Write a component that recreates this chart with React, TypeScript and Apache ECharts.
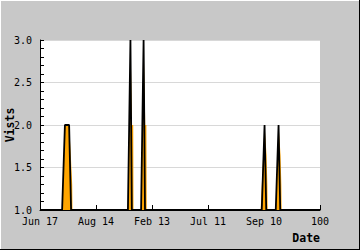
import React, { useEffect, useRef } from "react";
import * as echarts from "echarts";

const xTickLabels = ["Jun 17", "Aug 14", "Feb 13", "Jul 11", "Sep 10", "100"];
const visitPoints: [number, number][] = [
  [0, 1],
  [7.9, 1], [8.9, 2], [10.4, 2], [11.1, 1],
  [31.4, 1], [32.3, 3], [32.8, 1],
  [36.1, 1], [37.0, 3], [37.5, 1],
  [79.2, 1], [80.2, 2], [80.8, 1],
  [84.2, 1], [85.2, 2], [85.8, 1],
  [100, 1],
];
// orange fill spill to the right of each spike
const fillPoints: [number, number][] = [
  [0, 1],
  [7.9, 1], [8.9, 2], [10.4, 2], [11.0, 1.65], [11.5, 1.3], [11.6, 1],
  [31.4, 1], [32.3, 3], [32.9, 2.0], [33.3, 2.0], [33.4, 1],
  [36.1, 1], [37.0, 3], [37.6, 2.0], [38.0, 2.0], [38.1, 1],
  [78.8, 1], [80.2, 2], [80.9, 1.65], [81.2, 1.3], [81.3, 1],
  [84.2, 1], [85.2, 2], [85.9, 1.65], [86.2, 1.3], [86.3, 1],
  [100, 1],
];

export default function App() {
  const ref = useRef<HTMLDivElement>(null);
  useEffect(() => {
    if (!ref.current) return;
    const chart = echarts.init(ref.current, null, { renderer: "svg" });
    const mono = "DejaVu Sans Mono";
    chart.setOption({
      animation: false,
      backgroundColor: "#c8c8c8",
      grid: {
        left: 40, top: 40, width: 280, height: 170,
        containLabel: false, outerBoundsMode: "none",
        show: true, backgroundColor: "#fff", borderWidth: 0,
      },
      xAxis: {
        type: "value",
        min: 0,
        max: 100,
        interval: 20,
        name: "Date",
        nameLocation: "end",
        nameGap: 0,
        nameMoveOverlap: false,
        nameTextStyle: {
          fontFamily: mono, fontWeight: "bold", fontSize: 11.5, color: "#000",
          align: "right", verticalAlign: "top", padding: [22, 0, 0, 0],
        },
        axisLine: { show: true, lineStyle: { color: "#000", width: 1 } },
        axisTick: { show: true, inside: true, length: 5, lineStyle: { color: "#000" } },
        axisLabel: {
          fontFamily: mono, fontSize: 10, color: "#000", margin: 6,
          formatter: (v: number) => xTickLabels[Math.round(v / 20)] ?? "",
        },
        splitLine: { show: false },
      },
      yAxis: {
        type: "value",
        min: 1,
        max: 3,
        interval: 0.5,
        name: "Vists",
        nameLocation: "middle",
        nameGap: 24,
        nameMoveOverlap: false,
        nameRotate: 90,
        nameTextStyle: { fontFamily: mono, fontWeight: "bold", fontSize: 11.5, color: "#000" },
        axisLine: { show: true, lineStyle: { color: "#000", width: 1 } },
        axisTick: { show: true, inside: true, length: 4, lineStyle: { color: "#000" } },
        minorTick: { show: true, splitNumber: 5, length: 4, lineStyle: { color: "#000" } },
        axisLabel: {
          fontFamily: mono, fontSize: 10, color: "#000", margin: 8,
          formatter: (v: number) => v.toFixed(1),
        },
        splitLine: { show: true, lineStyle: { color: "#d8d8d8", width: 1 } },
      },
      series: [
        {
          type: "line",
          data: fillPoints,
          showSymbol: false,
          symbol: "none",
          clip: true,
          lineStyle: { width: 0, opacity: 0 },
          areaStyle: { color: "#ffa500", opacity: 1, origin: "start" },
          z: 2,
        },
        {
          type: "line",
          data: visitPoints,
          showSymbol: false,
          symbol: "none",
          clip: true,
          lineStyle: { color: "#000", width: 1.8 },
          areaStyle: { color: "#ffa500", opacity: 1, origin: "start" },
          z: 3,
        },
      ],
      graphic: [
        { type: "line", shape: { x1: 0, y1: 0.5, x2: 360, y2: 0.5 }, style: { stroke: "#fff", lineWidth: 1 } },
        { type: "line", shape: { x1: 0.5, y1: 0, x2: 0.5, y2: 250 }, style: { stroke: "#fff", lineWidth: 1 } },
        { type: "line", shape: { x1: 359.5, y1: 0, x2: 359.5, y2: 250 }, style: { stroke: "#000", lineWidth: 1 } },
        { type: "line", shape: { x1: 0, y1: 249.5, x2: 360, y2: 249.5 }, style: { stroke: "#000", lineWidth: 1 } },
      ],
    });
    return () => chart.dispose();
  }, []);
  return (
    <div
      ref={ref}
      style={{ position: "absolute", left: 0, top: 0, width: 360, height: 250 }}
    />
  );
}
